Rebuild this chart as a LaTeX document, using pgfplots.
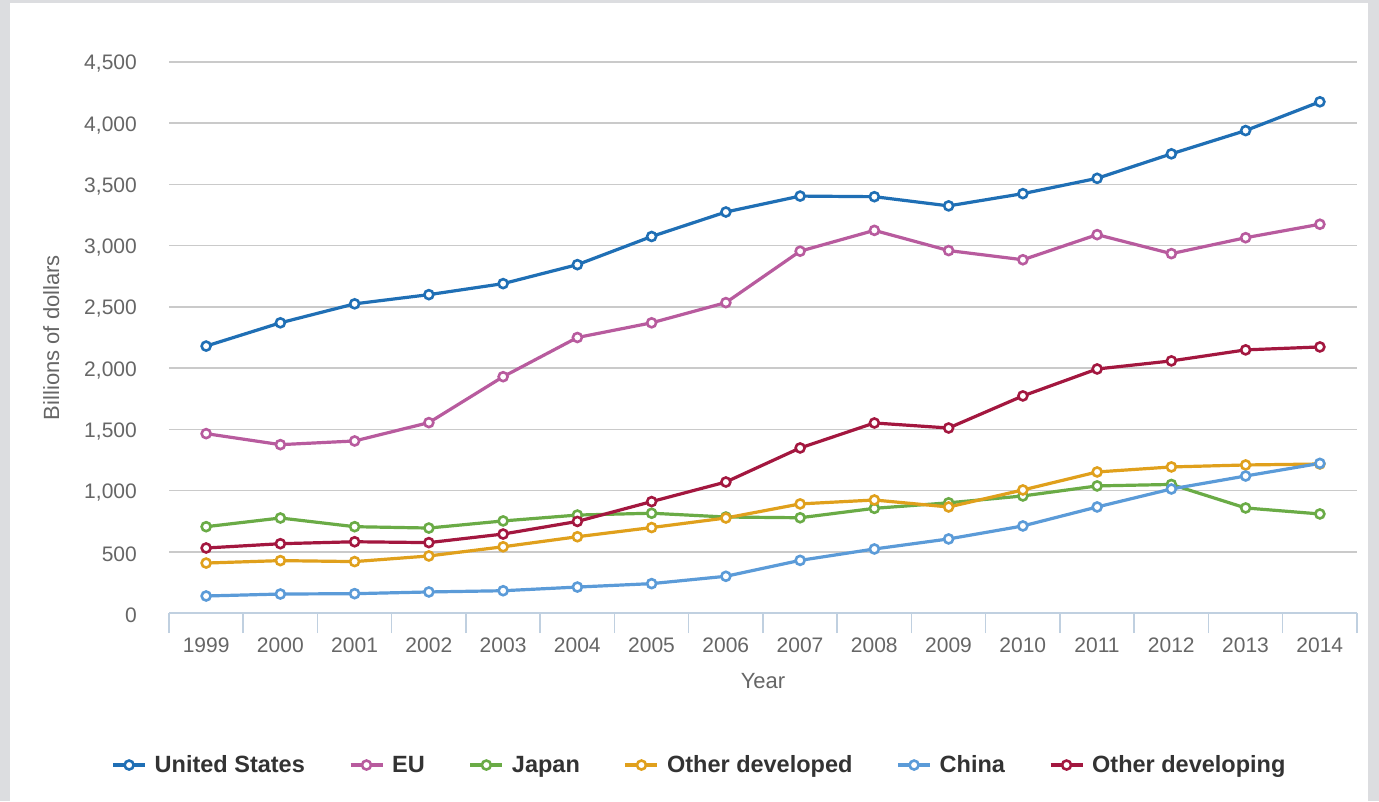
\documentclass[border=0pt]{standalone}
\usepackage{pgfplots}
\pgfplotsset{compat=1.18}
\usepackage{fontspec}
\setmainfont{Liberation Sans}

\definecolor{cUS}{HTML}{1F6FB5}
\definecolor{cEU}{HTML}{B85B9E}
\definecolor{cJP}{HTML}{6AAB46}
\definecolor{cOD}{HTML}{E0A01C}
\definecolor{cCN}{HTML}{5B9BD8}
\definecolor{cDV}{HTML}{A3173F}
\definecolor{frame}{HTML}{DCDDE0}
\definecolor{gridc}{HTML}{CACACA}
\definecolor{xaxc}{HTML}{C0D0E0}
\definecolor{tickc}{HTML}{666666}
\definecolor{legc}{HTML}{333333}

\pgfplotstableread{
year us eu jp od cn dv
1999 2180 1465 705 408 139 531
2000 2370 1375 776 428 155 566
2001 2525 1405 705 420 158 582
2002 2600 1555 694 466 172 575
2003 2690 1930 752 541 182 645
2004 2845 2250 800 623 212 748
2005 3075 2370 815 698 240 910
2006 3275 2535 784 776 300 1070
2007 3405 2955 778 891 430 1348
2008 3400 3125 855 923 523 1552
2009 3325 2960 900 866 605 1511
2010 3425 2885 956 1005 711 1773
2011 3550 3090 1038 1152 866 1993
2012 3750 2935 1050 1193 1013 2059
2013 3940 3065 858 1209 1119 2149
2014 4175 3175 809 1217 1222 2173
}\datatable

\begin{document}
\begin{tikzpicture}[x=1bp,y=1bp]
\fill[frame] (0,0) rectangle (1379,-801);
\fill[white] (10,-3) rectangle (1368,-801);
\begin{axis}[
  at={(169bp,-613bp)}, anchor=south west,
  scale only axis, width=1188bp, height=551bp,
  xmin=1998.5, xmax=2014.5, ymin=0, ymax=4500,
  xtick={1999,...,2014},
  minor xtick={1998.5,1999.5,...,2014.5},
  ytick={0,500,...,4500},
  scaled y ticks=false,
  axis x line*=bottom, axis y line*=left,
  x axis line style={draw=xaxc, line width=1.5bp},
  y axis line style={draw=none},
  major tick length=0pt,
  minor tick length=20bp,
  tick align=outside,
  minor tick style={draw=xaxc, line width=1.5bp},
  ymajorgrids, major grid style={draw=gridc, line width=1.6bp},
  /pgf/number format/assume math mode=true,
  tick label style={font=\fontsize{21bp}{25bp}\selectfont, text=tickc, inner sep=0pt},
  yticklabel style={anchor=east, xshift=-32bp, yshift=-2bp},
  xticklabel style={anchor=north, yshift=-25bp, /pgf/number format/1000 sep={}},
  xlabel={Year},
  xlabel style={at={(rel axis cs:0.5,0)}, anchor=north, yshift=-60bp, inner sep=0pt,
    font=\fontsize{22bp}{26bp}\selectfont, text=tickc},
  ylabel={Billions of dollars},
  ylabel style={at={(rel axis cs:-0.1061,0.5)}, rotate=0, anchor=north, inner sep=0pt,
    font=\fontsize{22bp}{26bp}\selectfont, text=tickc},
  every axis plot/.append style={line width=3.2bp, mark=o, mark size=4.5bp,
    mark options={fill=white, line width=2.6bp, solid}},
  clip=false,
  legend image code/.code={\draw[mark repeat=2,mark phase=2,#1] plot coordinates {(0bp,0bp) (16bp,0bp) (32bp,0bp)};},
  legend style={at={(rel axis cs:0.4457,-0.2759)}, anchor=center, draw=none, fill=none,
    legend columns=6, font=\fontsize{23.5bp}{27bp}\selectfont\bfseries, text=legc,
    nodes={inner sep=0pt},
    /tikz/every odd column/.append style={column sep=8bp},
    /tikz/every even column/.append style={column sep=44bp}},
]
\addplot[color=cUS, mark=*] table[x=year,y=us] {\datatable};
\addlegendentry{United States}
\addplot[color=cEU, mark=*] table[x=year,y=eu] {\datatable};
\addlegendentry{EU}
\addplot[color=cJP, mark=*] table[x=year,y=jp] {\datatable};
\addlegendentry{Japan}
\addplot[color=cOD, mark=*] table[x=year,y=od] {\datatable};
\addlegendentry{Other developed}
\addplot[color=cCN, mark=*] table[x=year,y=cn] {\datatable};
\addlegendentry{China}
\addplot[color=cDV, mark=*] table[x=year,y=dv] {\datatable};
\addlegendentry{Other developing}
\end{axis}
\pgfresetboundingbox
\path[use as bounding box] (0,0) rectangle (1379,-801);
\end{tikzpicture}
\end{document}
